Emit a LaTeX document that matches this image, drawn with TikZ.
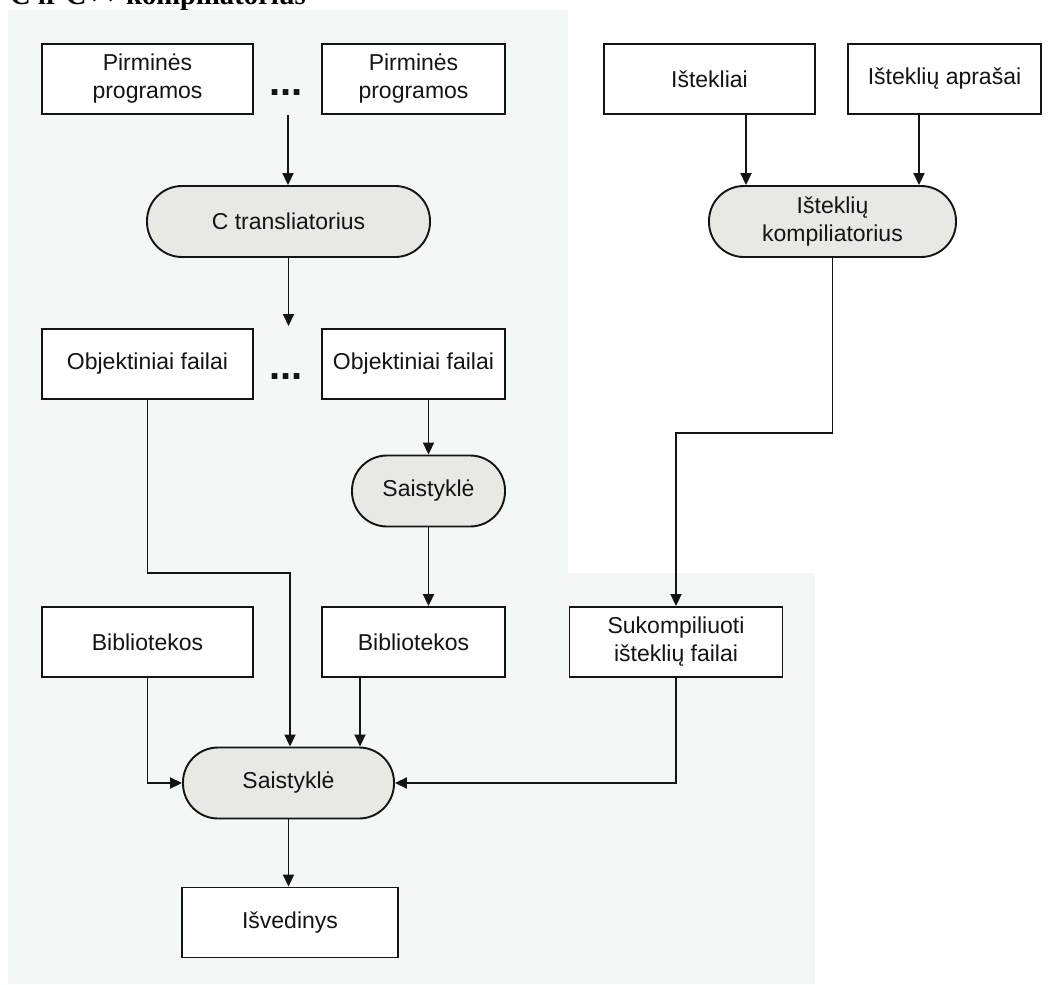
\documentclass[tikz,border=0pt]{standalone}
\usepackage{fontspec}
\setmainfont{Liberation Sans}
\newfontfamily\headfont{Liberation Serif}
\usetikzlibrary{arrows.meta}
\definecolor{panelbg}{RGB}{243,247,246}
\definecolor{procfill}{RGB}{232,233,228}
\definecolor{inkc}{RGB}{20,20,20}
\tikzset{
  filebox/.style={draw=inkc, line width=1.9pt, fill=white, minimum height=70pt, inner sep=0pt,
    align=center, font=\fontsize{23}{28}\selectfont, text=inkc},
  procbox/.style={draw=inkc, line width=1.9pt, fill=procfill, minimum height=71pt, inner sep=0pt,
    rounded corners=35pt, align=center, font=\fontsize{23}{28}\selectfont, text=inkc},
  flow/.style={draw=inkc, line width=1.9pt, -{Triangle[length=12pt,width=11pt]}},
  ellipsis/.style={font=\fontsize{40}{40}\selectfont\bfseries, anchor=base, inner sep=0pt, text=inkc}
}
\begin{document}
\begin{tikzpicture}[x=1pt,y=-1pt]
\useasboundingbox (0,0) rectangle (1050,985);
\clip (0,0) rectangle (1050,985);

% heading, partly above the page edge
\node[anchor=base west, inner sep=0pt, font=\headfont\bfseries\fontsize{28.6}{30}\selectfont]
  (head) at (10,5) {C ir C++ kompiliatorius};

% shaded panel behind the C toolchain
\fill[panelbg] (8,10) -- (568,10) -- (568,573) -- (815,573) -- (815,984) -- (8,984) -- cycle;

% sources
\node[filebox, minimum width=211pt] (srcA) at (147.5,79) {Pirminės\\programos};
\node[filebox, minimum width=183pt] (srcB) at (413.5,79) {Pirminės\\programos};
\node[ellipsis] (dotsA) at (286,95) {...};
\coordinate (srcjoin) at (288,115);

\node[procbox, minimum width=283pt] (cc) at (288.5,221.5) {C transliatorius};
\coordinate (ccend) at (288.5,326);

% object files
\node[filebox, minimum width=211pt] (objA) at (147.5,364) {Objektiniai failai};
\node[filebox, minimum width=183pt] (objB) at (413.5,364) {Objektiniai failai};
\node[ellipsis] (dotsB) at (286,379) {...};

\node[procbox, minimum width=153pt] (linkA) at (428.5,491) {Saistyklė};

% libraries
\node[filebox, minimum width=211pt] (libA) at (147.5,642) {Bibliotekos};
\node[filebox, minimum width=183pt] (libB) at (413.5,642) {Bibliotekos};

% resources
\node[filebox, minimum width=211pt] (res) at (709.5,79) {Ištekliai};
\node[filebox, minimum width=193pt] (resdesc) at (944.5,79) {Išteklių aprašai};
\node[procbox, minimum width=247pt] (rc) at (832.5,221.5) {Išteklių\\kompiliatorius};
\node[filebox, minimum width=213pt] (resout) at (676,642) {Sukompiliuoti\\išteklių failai};

% final link
\node[procbox, minimum width=211pt] (linkB) at (288.5,783) {Saistyklė};
\node[filebox, minimum width=216pt] (out) at (290,922.5) {Išvedinys};

\coordinate (bendA) at (290,573);
\coordinate (bendR) at (676,433);

% connectors
\draw[flow] (srcjoin) -- (srcjoin |- cc.north);
\draw[flow] (cc.south) -- (ccend);
\draw[flow] (objA.south) |- (bendA) -- (bendA |- linkB.north);
\draw[flow] (objB.south -| linkA.north) -- (linkA.north);
\draw[flow] (linkA.south) -- (linkA.south |- libB.north);
\draw[flow] (libA.south) |- (linkB.west);
\draw[flow] ([xshift=-53.5pt]libB.south) -- ([xshift=-53.5pt]libB.south |- linkB.north);
\draw[flow] (resout.south) |- (linkB.east);
\draw[flow] (linkB.south) -- (linkB.south |- out.north);
\draw[flow] ([xshift=36.5pt]res.south) -- ([xshift=36.5pt]res.south |- rc.north);
\draw[flow] ([xshift=-25.5pt]resdesc.south) -- ([xshift=-25.5pt]resdesc.south |- rc.north);
\draw[flow] (rc.south) |- (bendR) -- (resout.north);
\end{tikzpicture}
\end{document}
